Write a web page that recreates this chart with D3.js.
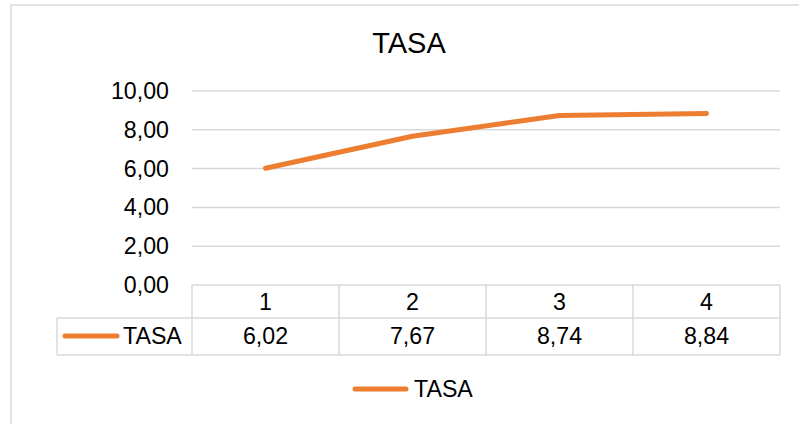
<!DOCTYPE html>
<html>
<head>
<meta charset="utf-8">
<script src="https://cdn.jsdelivr.net/npm/d3@7"></script>
<style>
  html, body { margin: 0; padding: 0; background: #fff; }
  svg { display: block; }
  text { font-family: "Liberation Sans", Arial, sans-serif; fill: #000; }
</style>
</head>
<body>
<svg id="chart" width="799" height="424"></svg>
<script>
// Series data
const categories = ["1", "2", "3", "4"];
const seriesName = "TASA";
const values = [6.02, 7.67, 8.74, 8.84];
const yTicks = [0, 2, 4, 6, 8, 10];

const lineColor = "#ED7D31";
const gridColor = "#D9D9D9";
const fontSize = 23.2;

const svg = d3.select("#chart");
const fmt = v => d3.format(".2f")(v).replace(".", ",");

// Chart frame (runs past the right and bottom edges)
svg.append("path")
  .attr("d", "M11,430 L11,5 L810,5")
  .attr("fill", "none")
  .attr("stroke", gridColor)
  .attr("stroke-width", 1.5);

// Title
svg.append("text")
  .attr("x", 409).attr("y", 53)
  .attr("text-anchor", "middle")
  .style("font-size", "29px")
  .text(seriesName);

// Scales
const x = d3.scaleBand().domain(categories).range([192, 780]).padding(0);
const y = d3.scaleLinear().domain([0, 10]).range([285, 91]);

// Gridlines
svg.append("g").selectAll("line")
  .data(yTicks)
  .join("line")
  .attr("x1", 192).attr("x2", 780)
  .attr("y1", d => y(d)).attr("y2", d => y(d))
  .attr("stroke", gridColor)
  .attr("stroke-width", 1.5);

// Y-axis labels
svg.append("g").selectAll("text")
  .data(yTicks)
  .join("text")
  .attr("x", 169)
  .attr("y", d => y(d) + 8)
  .attr("text-anchor", "end")
  .style("font-size", fontSize + "px")
  .text(d => fmt(d));

// Data table
const rowTop = y(0);
const rowMid = 318;
const rowBot = 355;
const tableLeft = 57;
const tbl = svg.append("g")
  .attr("stroke", gridColor)
  .attr("stroke-width", 1.5)
  .attr("fill", "none");

// horizontal rules
tbl.append("line").attr("x1", tableLeft).attr("x2", 780).attr("y1", rowMid).attr("y2", rowMid);
tbl.append("line").attr("x1", tableLeft).attr("x2", 780).attr("y1", rowBot).attr("y2", rowBot);
tbl.append("line").attr("x1", tableLeft).attr("x2", tableLeft).attr("y1", rowMid).attr("y2", rowBot);
// vertical rules at band edges
const edges = categories.map(c => x(c)).concat([x(categories[categories.length - 1]) + x.bandwidth()]);
tbl.selectAll("line.v")
  .data(edges)
  .join("line")
  .attr("class", "v")
  .attr("x1", d => d).attr("x2", d => d)
  .attr("y1", rowTop).attr("y2", rowBot);

// header row (categories)
svg.append("g").selectAll("text")
  .data(categories)
  .join("text")
  .attr("x", d => x(d) + x.bandwidth() / 2)
  .attr("y", 310)
  .attr("text-anchor", "middle")
  .style("font-size", fontSize + "px")
  .text(d => d);

// value row
svg.append("g").selectAll("text")
  .data(values)
  .join("text")
  .attr("x", (d, i) => x(categories[i]) + x.bandwidth() / 2)
  .attr("y", 344)
  .attr("text-anchor", "middle")
  .style("font-size", fontSize + "px")
  .text(d => fmt(d));

// series key inside the table
svg.append("line")
  .attr("x1", 65).attr("x2", 117)
  .attr("y1", 336).attr("y2", 336)
  .attr("stroke", lineColor)
  .attr("stroke-width", 5)
  .attr("stroke-linecap", "round");
svg.append("text")
  .attr("x", 123).attr("y", 344)
  .style("font-size", fontSize + "px")
  .text(seriesName);

// Line
const line = d3.line()
  .x((d, i) => x(categories[i]) + x.bandwidth() / 2)
  .y(d => y(d));
svg.append("path")
  .datum(values)
  .attr("d", line)
  .attr("fill", "none")
  .attr("stroke", lineColor)
  .attr("stroke-width", 5)
  .attr("stroke-linecap", "round")
  .attr("stroke-linejoin", "round");

// Legend
svg.append("line")
  .attr("x1", 355).attr("x2", 406)
  .attr("y1", 389).attr("y2", 389)
  .attr("stroke", lineColor)
  .attr("stroke-width", 5)
  .attr("stroke-linecap", "round");
svg.append("text")
  .attr("x", 414).attr("y", 397)
  .style("font-size", fontSize + "px")
  .text(seriesName);
</script>
</body>
</html>
